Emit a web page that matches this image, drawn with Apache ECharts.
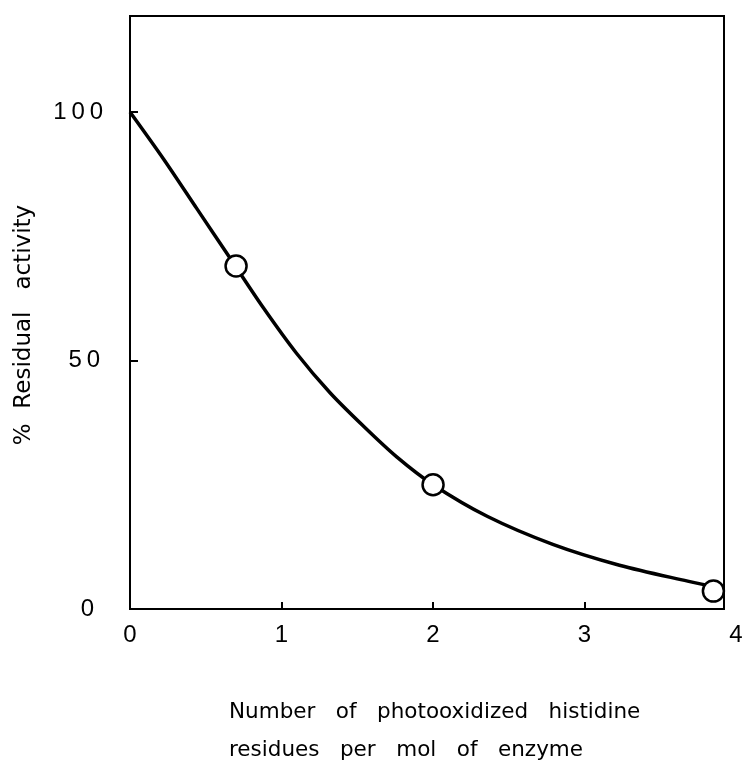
<!DOCTYPE html>
<html><head><meta charset="utf-8">
<script src="https://cdn.jsdelivr.net/npm/echarts@6/dist/echarts.min.js"></script>
<style>html,body{margin:0;padding:0;background:#fff}#c{width:744px;height:771px}</style>
</head><body><div id="c"></div>
<script>
// Measured points (x: histidine residues photooxidized per mol, y: % residual activity)
const pointX = [0.7, 2.0, 3.85];
const pointY = [69, 25, 3.6];
// Drawn fitted curve
const curveX = [0, 0.22, 0.44, 0.66, 0.88, 1.10, 1.32, 1.54, 1.76, 2.0, 2.36, 2.79, 3.23, 3.68, 3.85];
const curveY = [100, 90.6, 80.6, 70.6, 60.6, 51.4, 43.5, 36.8, 30.6, 25.0, 18.6, 13.0, 8.8, 5.6, 4.5];
const xTicks = [0, 1, 2, 3, 4];
const yTicks = [0, 50, 100];

const chart = echarts.init(document.getElementById('c'), null, {renderer: 'canvas'});
const numFont = '"Liberation Sans", sans-serif';
const txtFont = '"DejaVu Sans", sans-serif';
const sp = '\u2009';
chart.setOption({
  animation: false,
  backgroundColor: '#fff',
  grid: [
    {left: 130, right: 20, top: 16, bottom: 162, show: true, borderColor: '#000', borderWidth: 2,
      backgroundColor: 'transparent', containLabel: false, outerBoundsMode: 'none'},
    {left: 130, right: 8, top: 16, bottom: 162, show: false, containLabel: false, outerBoundsMode: 'none'}
  ],
  xAxis: [
    {
      gridIndex: 0, type: 'value', min: 0, max: 3.92, interval: 1,
      axisLine: {show: true, onZero: false, lineStyle: {color: '#000', width: 2}},
      axisTick: {show: true, inside: true, length: 7, lineStyle: {color: '#000', width: 2}},
      splitLine: {show: false},
      axisLabel: {show: false}
    },
    {
      gridIndex: 1, type: 'value', min: 0, max: 4, interval: 1,
      axisLine: {show: false}, axisTick: {show: false}, splitLine: {show: false},
      axisLabel: {color: '#000', fontSize: 24, fontFamily: numFont, margin: 14,
        showMinLabel: true, showMaxLabel: true,
        formatter: v => xTicks.includes(v) ? String(v) : ''}
    }
  ],
  yAxis: [
    {
      gridIndex: 0, type: 'value', min: 0, max: 119.3, interval: 50,
      axisLine: {show: true, onZero: false, lineStyle: {color: '#000', width: 2}},
      axisTick: {show: true, inside: true, length: 8, lineStyle: {color: '#000', width: 2}},
      splitLine: {show: false},
      axisLabel: {color: '#000', fontSize: 24, fontFamily: numFont, margin: 27, showMaxLabel: false,
        formatter: v => {
          if (!yTicks.includes(v)) return '';
          const s = String(v).split('').join(sp);
          return v === 100 ? '{a|' + s + '}' : v === 50 ? '{b|' + s + '}' : '{c|' + s + '}';
        },
        rich: {
          a: {fontSize: 24, fontFamily: numFont, color: '#000', padding: [0, 0, 0, 0]},
          b: {fontSize: 24, fontFamily: numFont, color: '#000', padding: [0, 3, 0, 0]},
          c: {fontSize: 24, fontFamily: numFont, color: '#000', padding: [0, 9, 0, 0]}
        }
      }
    },
    {gridIndex: 1, type: 'value', min: 0, max: 119.3, show: false}
  ],
  graphic: [
    {type: 'text', left: 229, top: 701, style: {text: 'Number   of   photooxidized   histidine', font: '21.5px ' + txtFont, fill: '#000'}},
    {type: 'text', left: 229, top: 739, style: {text: 'residues   per   mol   of   enzyme', font: '21.5px ' + txtFont, fill: '#000'}},
    {type: 'text', x: 24, y: 325, rotation: Math.PI / 2,
      style: {text: '%  Residual   activity', font: '23px ' + txtFont, fill: '#000', align: 'center', verticalAlign: 'middle'}}
  ],
  series: [
    {type: 'line', xAxisIndex: 0, yAxisIndex: 0, data: curveX.map((x, i) => [x, curveY[i]]),
      smooth: 0.3, showSymbol: false, lineStyle: {color: '#000', width: 3.5}, z: 2},
    {type: 'scatter', xAxisIndex: 0, yAxisIndex: 0, data: pointX.map((x, i) => [x, pointY[i]]),
      symbol: 'circle', symbolSize: 21,
      itemStyle: {color: '#fff', borderColor: '#000', borderWidth: 2.5, opacity: 1}, z: 3}
  ]
});
</script></body></html>
